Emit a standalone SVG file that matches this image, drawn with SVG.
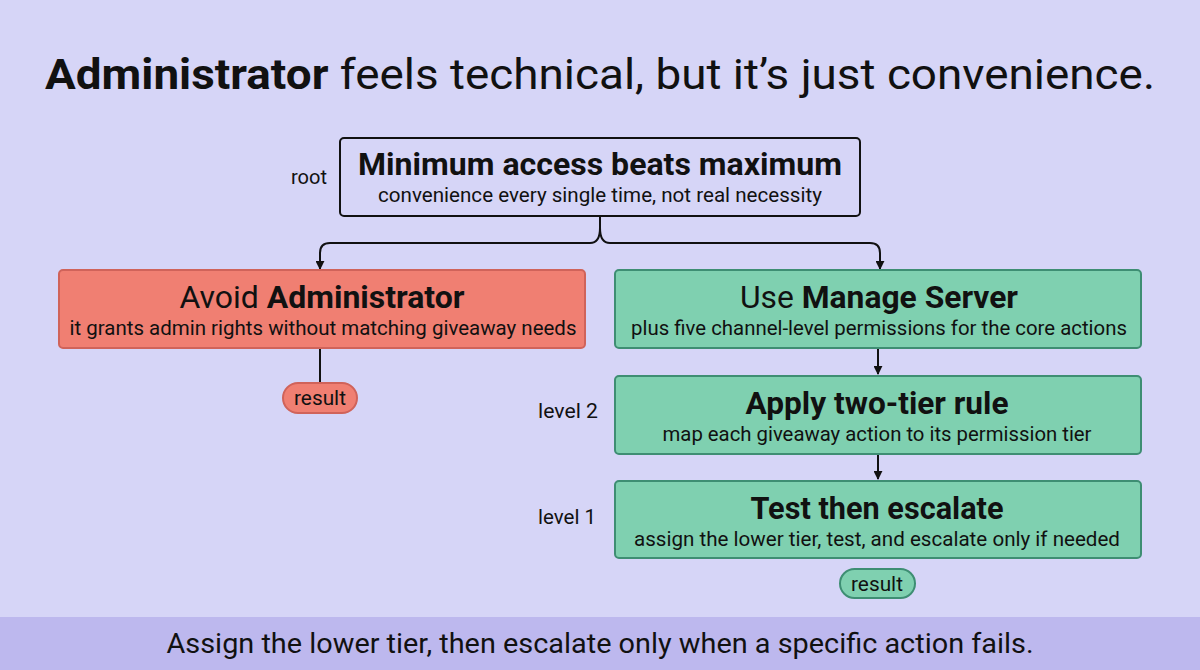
<svg xmlns="http://www.w3.org/2000/svg" width="1200" height="670" viewBox="0 0 1200 670">
<defs>
<style>
text{font-family:Roboto,"Liberation Sans",sans-serif;fill:#111;}
.h{font-size:32px;font-weight:700;text-anchor:middle;}
.hn{font-size:32px;font-weight:400;text-anchor:middle;}
.s{font-size:21px;text-anchor:middle;}
.lbl{font-size:20px;text-anchor:middle;}
.root{fill:none;stroke:#111;stroke-width:2;}
.red{fill:#f07f72;stroke:#d0635a;stroke-width:2;}
.green{fill:#7fd0b0;stroke:#3e8e73;stroke-width:2;}
.conn{fill:none;stroke:#111;stroke-width:2;}
</style>
<marker id="arr" viewBox="0 0 10 10" refX="9" refY="5" markerWidth="9" markerHeight="9" orient="auto" markerUnits="userSpaceOnUse">
<path d="M0,0 L10,5 L0,10 z" fill="#111"/>
</marker>
</defs>
<rect x="0" y="0" width="1200" height="670" fill="#d6d5f7"/>
<rect x="0" y="617" width="1200" height="53" fill="#bdb8ee"/>
<text x="600" y="89" font-size="42" text-anchor="middle" textLength="1110" lengthAdjust="spacingAndGlyphs"><tspan font-weight="700">Administrator</tspan> feels technical, but it’s just convenience.</text>

<g id="connectors">
<path class="conn" d="M600,216 V228 Q600,243 590,243 H330 Q320,243 320,253 V269" marker-end="url(#arr)"/>
<path class="conn" d="M600,228 Q600,243 610,243 H870 Q880,243 880,253 V269" marker-end="url(#arr)"/>
<path class="conn" d="M320,348 V383"/>
<path class="conn" d="M878,348 V374" marker-end="url(#arr)"/>
<path class="conn" d="M878,454 V479" marker-end="url(#arr)"/>
</g>

<g id="node-root">
<text class="lbl" x="309" y="184" textLength="36" lengthAdjust="spacingAndGlyphs">root</text>
<rect class="root" x="340" y="138" width="520" height="78" rx="4"/>
<text class="h" x="600" y="175" textLength="484" lengthAdjust="spacingAndGlyphs">Minimum access beats maximum</text>
<text class="s" x="600" y="202" textLength="444" lengthAdjust="spacingAndGlyphs">convenience every single time, not real necessity</text>
</g>

<g id="node-avoid">
<rect class="red" x="59" y="270" width="526" height="78" rx="4"/>
<text class="hn" x="322" y="308" textLength="285" lengthAdjust="spacingAndGlyphs">Avoid <tspan font-weight="700">Administrator</tspan></text>
<text class="s" x="323" y="335" textLength="507" lengthAdjust="spacingAndGlyphs">it grants admin rights without matching giveaway needs</text>
</g>

<g id="node-result-left">
<rect class="red" x="283" y="383" width="74" height="30" rx="15"/>
<text class="lbl" x="320" y="405" textLength="52" lengthAdjust="spacingAndGlyphs">result</text>
</g>

<g id="node-manage">
<rect class="green" x="615" y="270" width="526" height="78" rx="4"/>
<text class="hn" x="879" y="308" textLength="278" lengthAdjust="spacingAndGlyphs">Use <tspan font-weight="700">Manage Server</tspan></text>
<text class="s" x="879" y="335" textLength="496" lengthAdjust="spacingAndGlyphs">plus five channel-level permissions for the core actions</text>
</g>

<g id="node-twotier">
<text class="lbl" x="568" y="418" textLength="60" lengthAdjust="spacingAndGlyphs">level 2</text>
<rect class="green" x="615" y="376" width="526" height="78" rx="4"/>
<text class="h" x="877" y="414" textLength="263" lengthAdjust="spacingAndGlyphs">Apply two-tier rule</text>
<text class="s" x="877" y="441" textLength="429" lengthAdjust="spacingAndGlyphs">map each giveaway action to its permission tier</text>
</g>

<g id="node-test">
<text class="lbl" x="567" y="524" textLength="58" lengthAdjust="spacingAndGlyphs">level 1</text>
<rect class="green" x="615" y="481" width="526" height="77" rx="4"/>
<text class="h" x="877" y="519" textLength="253" lengthAdjust="spacingAndGlyphs">Test then escalate</text>
<text class="s" x="877" y="546" textLength="486" lengthAdjust="spacingAndGlyphs">assign the lower tier, test, and escalate only if needed</text>
</g>

<g id="node-result-right">
<rect class="green" x="840" y="569" width="75" height="29" rx="14.5"/>
<text class="lbl" x="877" y="591" textLength="52" lengthAdjust="spacingAndGlyphs">result</text>
</g>

<text x="600" y="653" font-size="28" text-anchor="middle" textLength="867" lengthAdjust="spacingAndGlyphs">Assign the lower tier, then escalate only when a specific action fails.</text>
</svg>
